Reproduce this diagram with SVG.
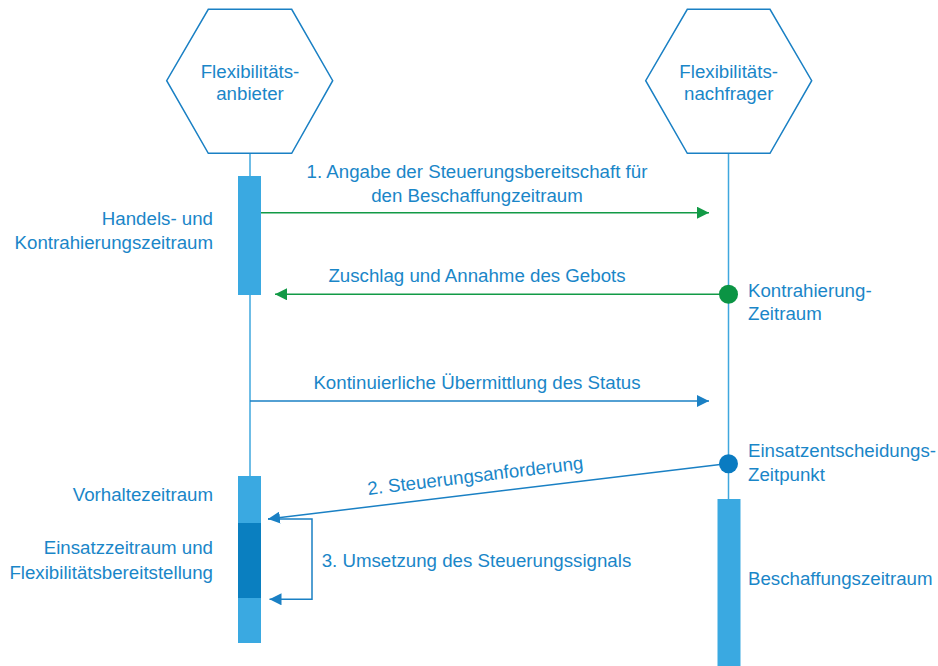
<svg xmlns="http://www.w3.org/2000/svg" width="938" height="666" viewBox="0 0 938 666">
<style>
text{font-family:"Liberation Sans",Arial,sans-serif;font-size:18.7px;fill:#1a86c8}
.hex{fill:#fff;stroke:#1a80c4;stroke-width:1.5}
.life{stroke:#3fa7de;stroke-width:1.5;fill:none}
.bar{fill:#3aa9e1}
.dark{fill:#0a7fc0}
.g{stroke:#129a46;stroke-width:1.5;fill:none}
.b{stroke:#1a80c4;stroke-width:1.5;fill:none}
.m{text-anchor:middle}
.e{text-anchor:end}
</style>
<defs>
<marker id="ag" markerUnits="userSpaceOnUse" markerWidth="13" markerHeight="12" refX="12" refY="6" orient="auto"><path d="M0,0 L12,6 L0,12 z" fill="#129a46"/></marker>
<marker id="ab" markerUnits="userSpaceOnUse" markerWidth="13" markerHeight="12" refX="12" refY="6" orient="auto"><path d="M0,0 L12,6 L0,12 z" fill="#1a80c4"/></marker>
</defs>
<g id="lifelines">
<line class="life" x1="250" y1="153" x2="250" y2="476"/>
<line class="life" x1="728.5" y1="153" x2="728.5" y2="499"/>
</g>
<g id="anbieter">
<polygon class="hex" points="208.3,9.3 291.7,9.3 332.7,80.7 291.7,153.3 208.3,153.3 166.7,80.7"/>
<text class="m" x="250" y="77.5">Flexibilitäts-</text>
<text class="m" x="250" y="100">anbieter</text>
</g>
<g id="nachfrager">
<polygon class="hex" points="687.3,9.3 770,9.3 811.7,80.7 770,153.3 687.3,153.3 645.7,80.7"/>
<text class="m" x="728.7" y="77.5">Flexibilitäts-</text>
<text class="m" x="728.7" y="100">nachfrager</text>
</g>
<g id="handelszeitraum">
<rect class="bar" x="238" y="176" width="23" height="119"/>
<text class="e" x="213" y="225">Handels- und</text>
<text class="e" x="213" y="248.5">Kontrahierungszeitraum</text>
</g>
<g id="vorhaltezeitraum">
<rect class="bar" x="238" y="476" width="23" height="167"/>
<rect class="dark" x="238" y="523" width="23" height="75"/>
<text class="e" x="213" y="501">Vorhaltezeitraum</text>
<text class="e" x="213" y="553.5">Einsatzzeitraum und</text>
<text class="e" x="213" y="578.5">Flexibilitätsbereitstellung</text>
</g>
<g id="beschaffungszeitraum">
<rect class="bar" x="717.5" y="499" width="23" height="167"/>
<text x="748" y="585">Beschaffungszeitraum</text>
</g>
<g id="connectors">
<line class="g" x1="261" y1="212.7" x2="709" y2="212.7" marker-end="url(#ag)"/>
<line class="g" x1="728.5" y1="294.3" x2="275" y2="294.3" marker-end="url(#ag)"/>
<line class="b" x1="250" y1="401" x2="709" y2="401" marker-end="url(#ab)"/>
<line class="b" x1="728.5" y1="463.5" x2="268" y2="519" marker-end="url(#ab)"/>
<path class="b" d="M268,519 H312 V599.3 H269.5" marker-end="url(#ab)"/>
</g>
<g id="kontrahierung">
<circle cx="728.5" cy="294.3" r="9.5" fill="#0b9444"/>
<text x="748" y="297">Kontrahierung-</text>
<text x="748" y="320">Zeitraum</text>
</g>
<g id="einsatzentscheidung">
<circle cx="728.5" cy="463.7" r="9.5" fill="#0a7bc1"/>
<text x="748" y="457">Einsatzentscheidungs-</text>
<text x="748" y="481">Zeitpunkt</text>
</g>
<g id="labels">
<text class="m" x="477" y="177.5">1. Angabe der Steuerungsbereitschaft für</text>
<text class="m" x="477" y="201.5">den Beschaffungzeitraum</text>
<text class="m" x="477" y="281.5">Zuschlag und Annahme des Gebots</text>
<text class="m" x="477" y="389.3">Kontinuierliche Übermittlung des Status</text>
<text class="m" x="476" y="482" transform="rotate(-6.9 476 482)">2. Steuerungsanforderung</text>
<text x="321.7" y="566.7">3. Umsetzung des Steuerungssignals</text>
</g>
</svg>
